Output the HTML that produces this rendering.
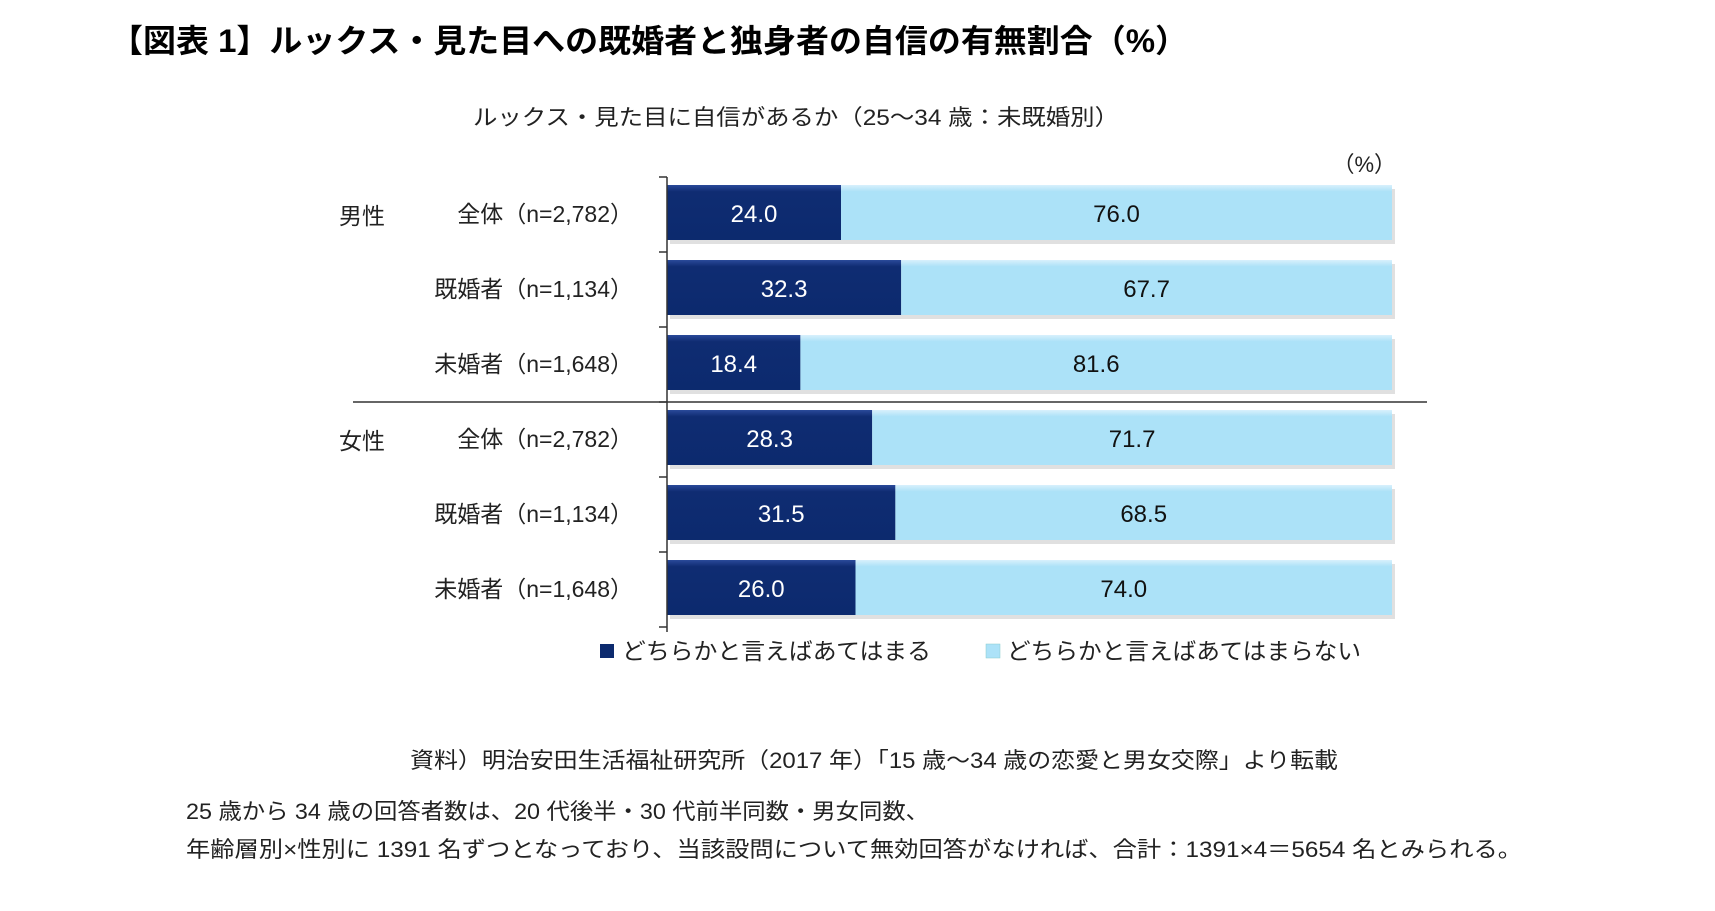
<!DOCTYPE html>
<html><head><meta charset="utf-8"><style>
body{margin:0;background:#fff;width:1715px;height:906px;overflow:hidden;font-family:"Liberation Sans","Noto Sans CJK JP",sans-serif;}
svg text{font-family:"Liberation Sans","Noto Sans CJK JP",sans-serif;}
</style></head><body>
<svg id="c" width="1715" height="906">
<defs>
<linearGradient id="gd" x1="0" y1="0" x2="0" y2="1"><stop offset="0" stop-color="#2a4a9a"/><stop offset="0.12" stop-color="#0f2c72"/><stop offset="1" stop-color="#0c2a6e"/></linearGradient>
<linearGradient id="gl" x1="0" y1="0" x2="0" y2="1"><stop offset="0" stop-color="#d8f0fc"/><stop offset="0.12" stop-color="#ace2f8"/><stop offset="1" stop-color="#ace2f8"/></linearGradient>
</defs>
<text x="110" y="52" font-size="32" font-weight="bold" fill="#000" textLength="1078" lengthAdjust="spacingAndGlyphs">【図表 1】ルックス・見た目への既婚者と独身者の自信の有無割合（%）</text>
<text x="473" y="125" font-size="22" fill="#222" textLength="646" lengthAdjust="spacingAndGlyphs">ルックス・見た目に自信があるか（25～34 歳：未既婚別）</text>
<text x="1396" y="172" font-size="22" text-anchor="end" fill="#222">（%）</text>
<g id="bars"></g>
<line x1="353" y1="402" x2="1427" y2="402" stroke="#333" stroke-width="1.5"/>
<line x1="667" y1="177" x2="667" y2="632" stroke="#333" stroke-width="1.5"/>
<text x="339" y="224" font-size="23" fill="#222">男性</text>
<text x="339" y="449" font-size="23" fill="#222">女性</text>
<rect x="600" y="644" width="14" height="14" fill="#0c2a6e"/>
<text x="622" y="659" font-size="23" fill="#222" textLength="309" lengthAdjust="spacingAndGlyphs">どちらかと言えばあてはまる</text>
<rect x="986" y="644" width="14" height="14" fill="#ace2f8" stroke="#8cc" stroke-width="0.5"/>
<text x="1007" y="659" font-size="23" fill="#222" textLength="354" lengthAdjust="spacingAndGlyphs">どちらかと言えばあてはまらない</text>
<text x="410" y="768" font-size="22" fill="#222" textLength="928" lengthAdjust="spacingAndGlyphs">資料）明治安田生活福祉研究所（2017 年）「15 歳～34 歳の恋愛と男女交際」より転載</text>
<text x="186" y="819" font-size="22" fill="#222" textLength="743" lengthAdjust="spacingAndGlyphs">25 歳から 34 歳の回答者数は、20 代後半・30 代前半同数・男女同数、</text>
<text x="186" y="857" font-size="22" fill="#222" textLength="1336" lengthAdjust="spacingAndGlyphs">年齢層別×性別に 1391 名ずつとなっており、当該設問について無効回答がなければ、合計：1391×4＝5654 名とみられる。</text>
</svg>
<script>
const categories=["全体（n=2,782）","既婚者（n=1,134）","未婚者（n=1,648）","全体（n=2,782）","既婚者（n=1,134）","未婚者（n=1,648）"];
const yesValues=[24.0,32.3,18.4,28.3,31.5,26.0];
const noValues=[76.0,67.7,81.6,71.7,68.5,74.0];
const NS="http://www.w3.org/2000/svg";
const x0=667,plotW=725,top0=185,pitch=75,barH=55;
const xs=v=>x0+v/100*plotW;
const ys=i=>top0+i*pitch;
const g=document.getElementById('bars');
function mk(t,a){const e=document.createElementNS(NS,t);for(const k in a)e.setAttribute(k,a[k]);g.appendChild(e);return e;}
for(let i=0;i<categories.length;i++){
  const y=ys(i);
  const t=mk('line',{x1:x0-8,y1:y-8,x2:x0,y2:y-8,stroke:'#333','stroke-width':1.5});
  
  
  const sh=mk('rect',{x:x0+3,y:y+4,width:plotW,height:barH,fill:'#ccc',opacity:0.6});
  
  
  const w1=xs(yesValues[i])-x0;
  const r1=mk('rect',{x:x0,y:y,width:w1,height:barH,fill:'url(#gd)'});
  
  
  const r2=mk('rect',{x:x0+w1,y:y,width:xs(yesValues[i]+noValues[i])-x0-w1,height:barH,fill:'url(#gl)'});
  
  
  const l1=mk('text',{x:x0+w1/2,y:y+37,'font-size':24,'text-anchor':'middle',fill:'#fff'});
  l1.textContent=yesValues[i].toFixed(1);
  
  
  const l2=mk('text',{x:(x0+w1+xs(yesValues[i]+noValues[i]))/2,y:y+37,'font-size':24,'text-anchor':'middle',fill:'#111'});
  l2.textContent=noValues[i].toFixed(1);
  
  
  const c=mk('text',{x:633,y:y+37,'font-size':23,'text-anchor':'end',fill:'#222'});
  c.textContent=categories[i];
  
  
}
const bt=mk('line',{x1:x0-8,y1:ys(6)-8,x2:x0,y2:ys(6)-8,stroke:'#333','stroke-width':1.5});


</script>
</body></html>
